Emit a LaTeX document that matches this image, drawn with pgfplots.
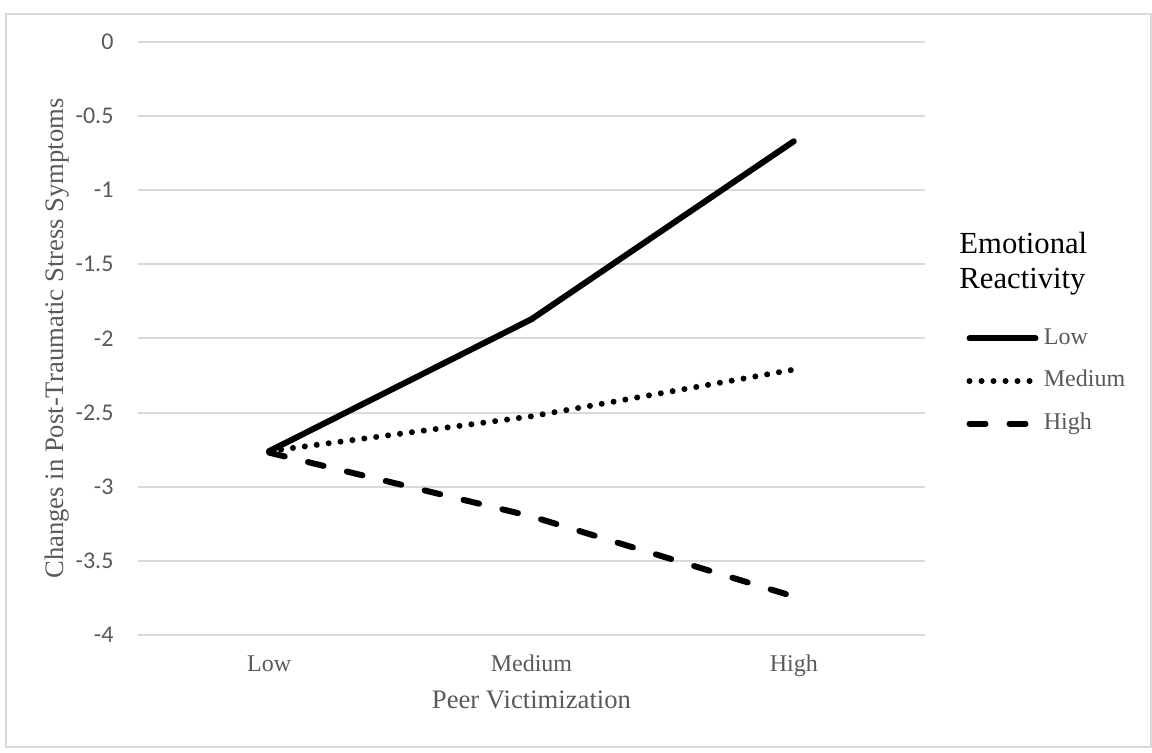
\documentclass[border=0pt]{standalone}
\usepackage{fontspec}
\setmainfont{Liberation Serif}
\newfontfamily\carlito{Carlito}
\usepackage{pgfplots}
\pgfplotsset{compat=1.18}
\definecolor{txtgray}{HTML}{595959}
\definecolor{gridgray}{HTML}{D9D9D9}
\begin{document}
\begin{tikzpicture}
\useasboundingbox (0,0) rectangle (432pt,282pt);
\draw[gridgray, line width=0.75pt] (2.25pt,1.9pt) rectangle (431.6pt,276.75pt);
\begin{axis}[
  at={(51.75pt,43.875pt)}, anchor=south west,
  scale only axis, width=295.1pt, height=222.4pt,
  xmin=-0.5, xmax=2.5, ymin=-4, ymax=0,
  xtick={0,1,2}, xticklabels={Low,Medium,High},
  ytick={-4,-3.5,-3,-2.5,-2,-1.5,-1,-0.5,0},
  yticklabels={-4,-3.5,-3,-2.5,-2,-1.5,-1,-0.5,0},
  axis line style={draw=none},
  major tick length=0pt,
  ymajorgrids, grid style={gridgray, line width=0.75pt},
  xticklabel style={font=\fontsize{9}{10}\selectfont, text=txtgray, anchor=base, inner sep=0pt, yshift=-13.5pt},
  yticklabel style={font=\carlito\fontsize{9}{10}\selectfont, text=txtgray, anchor=east, inner sep=0pt, xshift=-9pt},
  xlabel={Peer Victimization},
  ylabel={Changes in Post-Traumatic Stress Symptoms},
  xlabel style={font=\fontsize{10}{12}\selectfont, text=txtgray, at={(axis description cs:0.5,-0.1232)}, anchor=base, inner sep=0pt},
  ylabel style={font=\fontsize{10}{12}\selectfont, text=txtgray, at={(axis description cs:-0.0952,0.5)}, anchor=base, inner sep=0pt},
  legend style={at={(axis description cs:1.0522,0.4282)}, anchor=west, draw=none, fill=none, inner sep=0pt,
    row sep=8pt, font=\fontsize{9}{10}\selectfont, text=txtgray,
    nodes={inner sep=0pt, text height=6.2pt, text depth=1.8pt},
    /tikz/every odd column/.append style={column sep=2pt}},
  legend image code/.code={\draw[#1] (1.125pt,0pt) -- (25.875pt,0pt);},
  legend cell align=left,
]
\addplot[black, line width=2.25pt, line join=round, line cap=round] coordinates {(0,-2.76) (1,-1.87) (2,-0.67)};
\addlegendentry{Low}
\addplot[black, line width=2.25pt, line cap=round, dash pattern=on 0pt off 4.5pt] coordinates {(0,-2.76) (1,-2.525) (2,-2.21)};
\addlegendentry{Medium}
\addplot[black, line width=2.25pt, line cap=round, dash pattern=on 6pt off 9pt] coordinates {(0,-2.77) (1,-3.20) (2,-3.74)};
\addlegendentry{High}
\end{axis}
\node[anchor=base west, inner sep=0pt, font=\fontsize{11.5}{13}\selectfont] at (359.6pt,187.1pt) {Emotional};
\node[anchor=base west, inner sep=0pt, font=\fontsize{11.5}{13}\selectfont] at (359.6pt,174pt) {Reactivity};
\end{tikzpicture}
\end{document}
